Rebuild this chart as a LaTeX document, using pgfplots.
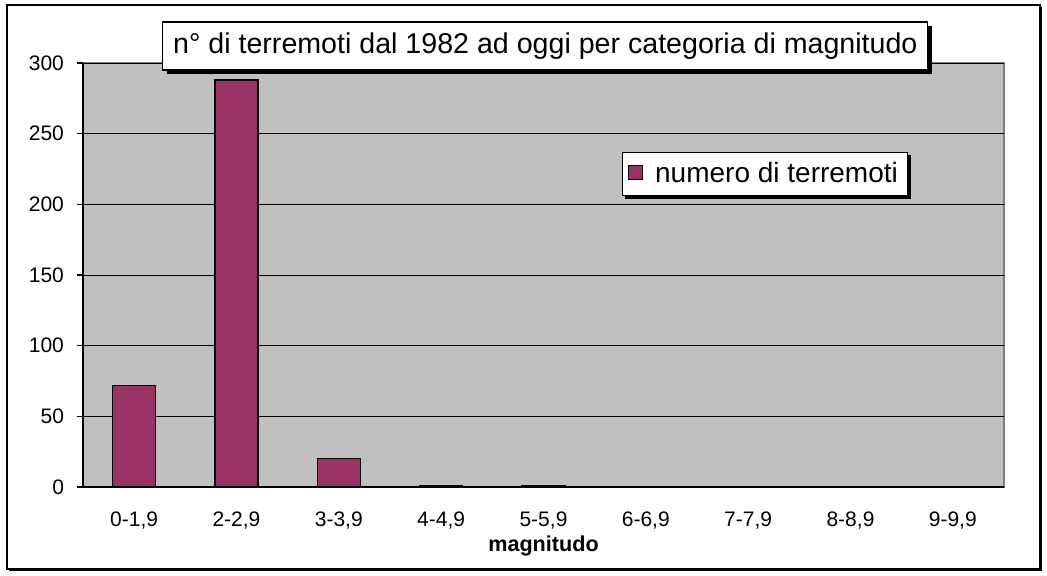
\documentclass[border=0pt]{standalone}
\usepackage{fontspec}
\setmainfont{Liberation Sans}
\usepackage{pgfplots}
\pgfplotsset{compat=1.18}
\usetikzlibrary{shadows,calc}
\definecolor{barc}{HTML}{993366}
\definecolor{plotbg}{HTML}{C0C0C0}
\definecolor{bordergray}{HTML}{808080}
\begin{document}
\begin{tikzpicture}
\useasboundingbox (-41.5pt,-44pt) rectangle (482pt,243.5pt);
\draw[black, line width=0.6pt, fill=white, drop shadow={shadow xshift=0.8pt,shadow yshift=-0.8pt,fill=black,opacity=1}] (-38pt,-41pt) rectangle (478.5pt,241pt);
\begin{axis}[
  at={(0pt,0pt)}, anchor=south west,
  scale only axis, width=460.5pt, height=212pt,
  xmin=-0.5, xmax=8.5, ymin=0, ymax=300,
  axis background/.style={fill=plotbg, draw=bordergray, line width=0.6pt},
  axis x line*=bottom, axis y line*=left,
  axis line style={black, line width=0.6pt, -},
  ytick={0,50,...,300},
  xtick={0,...,8},
  xticklabels={{0-1,9},{2-2,9},{3-3,9},{4-4,9},{5-5,9},{6-6,9},{7-7,9},{8-8,9},{9-9,9}},
  major x tick style={draw=none},
  extra x ticks={-0.5,0.5,...,8.5},
  extra x tick labels={},
  extra x tick style={major tick length=3pt, tick align=outside, tick style={black, line width=0.6pt}, grid=none},
  major tick length=3pt, tick align=outside,
  ytick style={black, line width=0.6pt},
  ymajorgrids, grid style={black, line width=0.5pt},
  /pgf/number format/assume math mode=true,
  tick label style={font=\fontsize{10.5}{12}\selectfont},
  xticklabel style={yshift=-6pt},
  yticklabel style={xshift=-3pt},
  xlabel={\textbf{magnitudo}},
  xlabel style={font=\fontsize{10.8}{12}\selectfont, at={(0.5,0)}, anchor=north, yshift=-21pt},
  title={n° di terremoti dal 1982 ad oggi per categoria di magnitudo},
  title style={at={(0.502,1.04)}, anchor=center, yshift=-6pt, draw=black, line width=0.6pt, fill=white,
    minimum width=382.5pt, minimum height=24pt, inner sep=1pt,
    font=\fontsize{14.3}{16}\selectfont,
    drop shadow={shadow xshift=2pt,shadow yshift=-2pt,fill=black,opacity=1}},
  legend style={name=lgd, at={(0.7405,0.738)}, anchor=center, draw=black, line width=0.5pt, fill=white,
    font=\fontsize{14}{16}\selectfont, inner xsep=3pt, inner ysep=3pt},
  legend image code/.code={\draw[fill=barc, draw=black, line width=0.5pt] (0pt,-2.5pt) rectangle (7pt,4.5pt); \path (11pt,0pt);},
]
\addplot[ybar, bar width=21.5pt, fill=barc, draw=black, line width=0.6pt] coordinates {
  (0,72) (1,288) (2,20) (3,1) (4,1) (5,0) (6,0) (7,0) (8,0)
};
\addlegendentry{numero di terremoti}
\end{axis}
\fill[black] ($(lgd.south west)+(1.5pt,-1.5pt)$) rectangle ($(lgd.south east)+(1.5pt,0pt)$);
\fill[black] (lgd.south east) rectangle ($(lgd.north east)+(1.5pt,-1.5pt)$);
\end{tikzpicture}
\end{document}
